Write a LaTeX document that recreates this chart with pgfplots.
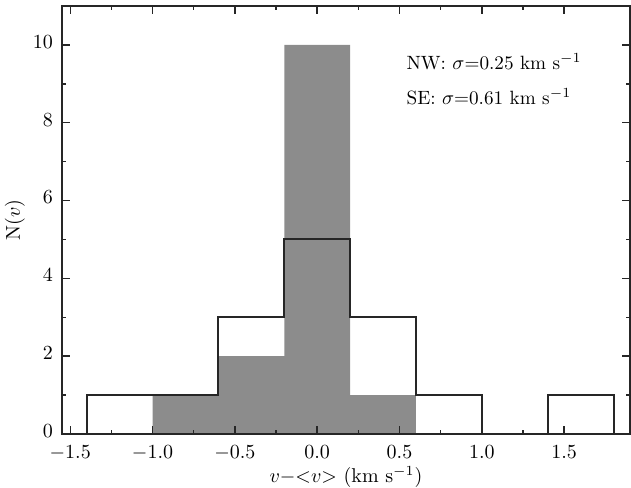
\documentclass[border=0pt]{standalone}
\usepackage{pgfplots}
\pgfplotsset{compat=1.18}
\usetikzlibrary{calc}
\definecolor{histgray}{RGB}{140,140,140}

\begin{document}
\begin{tikzpicture}
\begin{axis}[
    name=ax,
    scale only axis,
    width=284pt, height=214pt,
    xmin=-1.55, xmax=1.9,
    ymin=0, ymax=11,
    xtick={-1.5,-1,...,1.5},
    minor x tick num=1,
    ytick={0,2,...,10},
    minor y tick num=1,
    major tick length=4pt,
    minor tick length=2pt,
    axis line style={line width=0.9pt, black!85},
    tick style={line width=0.7pt, black!85},
    tick label style={font=\fontsize{10.2}{12}\selectfont},
    y tick label style={yshift=1.5pt, xshift=-1pt},
    x tick label style={yshift=-2.5pt,
        /pgf/number format/fixed,
        /pgf/number format/fixed zerofill,
        /pgf/number format/precision=1},
    xlabel={$v{-}{<}v{>}$ (km s$^{-1}$)},
    ylabel={N($v$)},
    x label style={at={(axis description cs:0.5,-0.1)}, anchor=center, inner sep=1pt},
    y label style={at={(axis description cs:-0.083,0.5)}, anchor=center},
    axis on top,
]
% NW (filled)
\addplot[const plot mark left, fill=histgray, draw=none] coordinates {
    (-1.0,0) (-1.0,1) (-0.6,2) (-0.2,10) (0.2,1) (0.6,1) (0.6,0)
} \closedcycle;
% SE (outline)
\addplot[const plot mark left, line width=1pt, black!85] coordinates {
    (-1.4,0) (-1.4,1) (-1.0,1) (-0.6,3) (-0.2,5) (0.2,3) (0.6,1) (1.0,0) (1.4,1) (1.8,1) (1.8,0)
};
\node[anchor=west, font=\fontsize{9.6}{11}\selectfont] at (axis cs:0.5,9.56) {NW: $\sigma$=0.25 km s$^{-1}$};
\node[anchor=west, font=\fontsize{9.6}{11}\selectfont] at (axis cs:0.5,8.66) {SE: $\sigma$=0.61 km s$^{-1}$};
\end{axis}
\pgfresetboundingbox
\path ($(ax.south west)+(-31pt,-26.5pt)$) rectangle ($(ax.north east)+(0.5pt,3pt)$);
\end{tikzpicture}
\end{document}
